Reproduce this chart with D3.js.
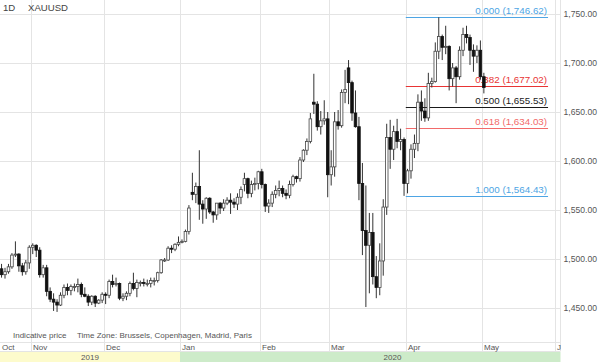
<!DOCTYPE html>
<html>
<head>
<meta charset="utf-8">
<script src="https://cdn.jsdelivr.net/npm/d3@7"></script>
<style>
  body { margin: 0; background: #fff; }
  svg { display: block; font-family: "Liberation Sans", Arial, sans-serif; }
</style>
</head>
<body>
<div id="chart"></div>
<script>
// trading days run Oct 21 2019 .. May 1 2020, axis continues to mid June
var firstDay = new Date(2019, 9, 21);
var axisEnd = new Date(2020, 5, 13);

var openPx = [1490,1484,1487,1492,1504,1505,1493,1487,1496,
  1512,1514,1509,1484,1491,1467,1459,1456,1453,1463,1471,1468,1472,1472,1474,1464,1462,1456,1462,1455,1458,
  1464,1463,1477,1474,1475,1460,1462,1465,1475,1470,1476,1476,1475,1475,1478,1478,1486,1499,1499,1511,1510,1515,
  1517,1518,1528,1568,1566,1574,1556,1551,1562,1548,1545,1557,1552,1557,1560,1558,1556,1563,1576,1582,1567,1576,1577,
  1589,1576,1554,1557,1566,1570,1572,1567,1565,1576,1584,1582,1601,1611,1620,1660,1658,1635,1641,1643,
  1586,1594,1640,1636,1670,1695,1680,1649,1635,1577,1529,1514,1527,1482,1471,1498,1553,1624,1612,1630,1620,1622,
  1577,1590,1612,1618,1660,1651,1644,1679,1681,1712,1727,1716,1717,1684,1695,1686,1713,1729,1726,1713,1707,1713,
  1686];
var highPx = [1495,1491,1495,1506,1518,1506,1496,1499,1514,
  1516,1515,1512,1494,1494,1471,1465,1459,1466,1474,1475,1474,1475,1480,1476,1471,1464,1463,1463,1459,1466,
  1466,1479,1484,1481,1476,1465,1467,1477,1486,1479,1478,1480,1479,1481,1481,1487,1500,1501,1513,1514,1516,1523,
  1520,1530,1555,1588,1578,1611,1560,1563,1563,1549,1557,1558,1561,1563,1567,1562,1567,1574,1588,1583,1580,1583,1590,
  1592,1577,1561,1569,1575,1580,1575,1571,1580,1586,1585,1604,1612,1623,1649,1689,1661,1651,1662,1650,
  1611,1650,1652,1673,1693,1703,1682,1672,1645,1598,1575,1547,1547,1503,1516,1561,1638,1642,1636,1643,1633,1624,
  1592,1617,1627,1668,1672,1664,1690,1685,1721,1746.62,1729,1738,1718,1700,1697,1717,1736,1738,1729,1719,1718,1723,
  1690];
var lowPx = [1481,1480,1485,1490,1502,1487,1483,1484,1490,
  1505,1502,1481,1481,1462,1456,1447,1446,1452,1460,1463,1463,1467,1466,1461,1461,1452,1453,1451,1454,1455,
  1454,1460,1471,1472,1458,1457,1458,1462,1468,1461,1472,1472,1472,1471,1473,1476,1485,1497,1498,1506,1508,1513,
  1516,1517,1525,1560,1557,1540,1536,1541,1546,1537,1540,1546,1549,1555,1546,1552,1550,1556,1569,1562,1563,1570,1571,
  1572,1548,1547,1553,1562,1564,1563,1561,1562,1574,1578,1579,1599,1606,1618,1648,1631,1627,1637,1563,
  1575,1584,1632,1634,1659,1658,1641,1634,1560,1504,1451,1465,1474,1460,1463,1483,1545,1592,1601,1613,1611,1564.43,
  1567,1582,1603,1610,1641,1640,1641,1675,1680,1704,1703,1709,1672,1676,1659,1683,1707,1720,1698,1691,1700,1683,
  1669];
var closePx = [1484,1487,1492,1504,1505,1493,1487,1496,1512,
  1514,1509,1484,1491,1467,1459,1456,1453,1463,1471,1468,1472,1472,1474,1464,1462,1456,1462,1455,1458,1464,
  1463,1477,1474,1475,1460,1462,1465,1475,1470,1476,1476,1475,1475,1478,1478,1486,1499,1499,1511,1510,1515,1517,
  1518,1528,1552,1566,1574,1556,1551,1562,1548,1545,1557,1552,1557,1560,1558,1556,1563,1571,1582,1567,1576,1577,1589,
  1576,1554,1557,1566,1570,1572,1567,1565,1576,1584,1582,1601,1611,1620,1643,1658,1635,1641,1643,1586,
  1594,1640,1636,1670,1673,1680,1649,1635,1577,1529,1514,1527,1482,1471,1498,1553,1624,1612,1630,1620,1622,1577,
  1590,1612,1618,1660,1651,1644,1679,1681,1712,1727,1716,1717,1684,1695,1686,1713,1729,1726,1713,1707,1713,1686,
  1675];

var priceTicks = [1450, 1500, 1550, 1600, 1650, 1700, 1750];
var fibRatios = [0, 0.382, 0.5, 0.618, 1];
var fibColors = ["#4ea5e4", "#e83434", "#1a1a1a", "#f26a6a", "#4ea5e4"];
var fibFrom = new Date(2020, 2, 31);   // swing low candle
var fibEnd = new Date(2020, 4, 28);
var monthNames = ["Jan","Feb","Mar","Apr","May","Jun","Jul","Aug","Sep","Oct","Nov","Dec"];
var yearNames = ["2019", "2020"];
var yearColors = ["#fdfbcc", "#cdebc9"];

var width = 601, height = 362;
var plotRight = 560.5, plotBottom = 342;

var days = d3.timeDay.range(firstDay, axisEnd).filter(function(d) {
  return d.getDay() !== 0 && d.getDay() !== 6;
});
var candles = closePx.map(function(c, i) {
  return { date: days[i], o: openPx[i], h: highPx[i], l: lowPx[i], c: c };
});

var x = d3.scaleBand()
  .domain(days)
  .range([-0.2, -0.2 + days.length * 3.47]);
var y = d3.scaleLinear()
  .domain([1450, 1750])
  .range([308, 14]);

var svg = d3.select("#chart").append("svg")
  .attr("width", width)
  .attr("height", height);

svg.append("defs").append("clipPath").attr("id", "plotClip")
  .append("rect").attr("x", 0).attr("y", 0).attr("width", plotRight).attr("height", plotBottom);
svg.append("defs").append("clipPath").attr("id", "axisClip")
  .append("rect").attr("x", 0).attr("y", 0).attr("width", 561).attr("height", height);

// month starts
var monthStarts = days.filter(function(d, i) {
  return i === 0 || d.getMonth() !== days[i - 1].getMonth();
});

// grid
var grid = svg.append("g").attr("stroke", "#e4e4e4").attr("stroke-width", 1);
grid.selectAll(".hg").data(priceTicks).enter().append("line")
  .attr("x1", 0).attr("x2", plotRight)
  .attr("y1", d => Math.round(y(d)) + 0.5).attr("y2", d => Math.round(y(d)) + 0.5);
grid.selectAll(".vg").data(monthStarts.slice(1)).enter().append("line")
  .attr("x1", d => Math.round(x(d)) + 0.5).attr("x2", d => Math.round(x(d)) + 0.5)
  .attr("y1", 0).attr("y2", 351);
grid.append("line").attr("x1", plotRight).attr("x2", plotRight).attr("y1", 0).attr("y2", 351);
grid.append("line").attr("x1", 0).attr("x2", plotRight).attr("y1", plotBottom + 0.5).attr("y2", plotBottom + 0.5);
grid.append("line").attr("x1", 0).attr("x2", plotRight).attr("y1", 351.5).attr("y2", 351.5);

// price axis on the right
var yAxis = d3.axisRight(y)
  .tickValues(priceTicks)
  .tickSize(0)
  .tickPadding(3)
  .tickFormat(d3.format(",.2f"));
svg.append("g")
  .attr("transform", "translate(" + plotRight + ",0)")
  .call(yAxis)
  .call(g => g.select(".domain").remove())
  .selectAll("text")
  .attr("fill", "#555")
  .style("font-size", "8.6px")
  .style("font-family", "'Liberation Sans', Arial, sans-serif");

// fibonacci levels, from the Mar 31 low to the top after it
var lowIdx = days.findIndex(d => +d === +fibFrom);
var fibLow = lowPx[lowIdx];
var fibHigh = d3.max(highPx.slice(lowIdx));
var fibX0 = x(days[lowIdx]) + x.bandwidth();
var fibX1 = x(fibEnd);
var fib = fibRatios.map(function(r, i) {
  return { r: r, v: fibHigh - r * (fibHigh - fibLow), color: fibColors[i] };
});
var fibG = svg.append("g").attr("clip-path", "url(#plotClip)");
fibG.selectAll("line").data(fib).enter().append("line")
  .attr("x1", fibX0).attr("x2", fibX1)
  .attr("y1", d => Math.round(y(d.v)) + 0.5).attr("y2", d => Math.round(y(d.v)) + 0.5)
  .attr("stroke", d => d.color).attr("stroke-width", 1);
fibG.selectAll("text").data(fib).enter().append("text")
  .attr("x", fibX1 - 1).attr("y", d => Math.round(y(d.v)) - 3)
  .attr("text-anchor", "end")
  .attr("fill", d => d.color)
  .style("font-size", "9.8px")
  .text(d => d3.format(".3f")(d.r) + " (" + d3.format(",.2f")(d.v) + ")");

// candles
var cg = svg.append("g").attr("clip-path", "url(#plotClip)");
var bw = 2.6;
var candle = cg.selectAll(".candle").data(candles).enter().append("g");
candle.append("line")
  .attr("x1", d => x(d.date) + x.bandwidth() / 2).attr("x2", d => x(d.date) + x.bandwidth() / 2)
  .attr("y1", d => y(d.h)).attr("y2", d => y(d.l))
  .attr("stroke", "#333").attr("stroke-width", 1);
candle.append("rect")
  .attr("x", d => x(d.date) + (x.bandwidth() - bw) / 2)
  .attr("y", d => y(Math.max(d.o, d.c)))
  .attr("width", bw)
  .attr("height", d => Math.max(1, Math.abs(y(d.o) - y(d.c))))
  .attr("fill", d => d.c >= d.o ? "#fff" : "#111")
  .attr("stroke", d => d.c >= d.o ? "#444" : "#111")
  .attr("stroke-width", 0.8);

// header
svg.append("text").attr("x", 3).attr("y", 11).attr("fill", "#444")
  .style("font-size", "9.6px").text("1D");
svg.append("text").attr("x", 28).attr("y", 11).attr("fill", "#444")
  .style("font-size", "9.6px").text("XAUUSD");

// footer note
svg.append("text").attr("x", 13).attr("y", 338).attr("fill", "#555")
  .style("font-size", "8px").text("Indicative price");
svg.append("text").attr("x", 77).attr("y", 338).attr("fill", "#555")
  .style("font-size", "8px").text("Time Zone: Brussels, Copenhagen, Madrid, Paris");

// month labels
var axisG = svg.append("g").attr("clip-path", "url(#axisClip)");
axisG.selectAll("text").data(monthStarts).enter().append("text")
  .attr("x", d => Math.max(1, Math.round(x(d)) + 2))
  .attr("y", 349.5)
  .attr("fill", "#555")
  .style("font-size", "8px")
  .text(d => monthNames[d.getMonth()]);

// year band
var yearStart = days.filter(d => d.getMonth() === 0 && d.getDate() <= 3)[0];
var yearEdges = [0, Math.round(x(yearStart)), plotRight];
var yearG = svg.append("g");
yearG.selectAll("rect").data(yearNames).enter().append("rect")
  .attr("x", (d, i) => yearEdges[i]).attr("y", 352)
  .attr("width", (d, i) => yearEdges[i + 1] - yearEdges[i]).attr("height", 10)
  .attr("fill", (d, i) => yearColors[i]);
yearG.selectAll("text").data(yearNames).enter().append("text")
  .attr("x", (d, i) => i === 0 ? (yearEdges[0] + yearEdges[1]) / 2 : (yearEdges[1] + width) / 2 + 2)
  .attr("y", 359.8)
  .attr("text-anchor", "middle")
  .attr("fill", "#555")
  .style("font-size", "8px")
  .text(d => d);
</script>
</body>
</html>
